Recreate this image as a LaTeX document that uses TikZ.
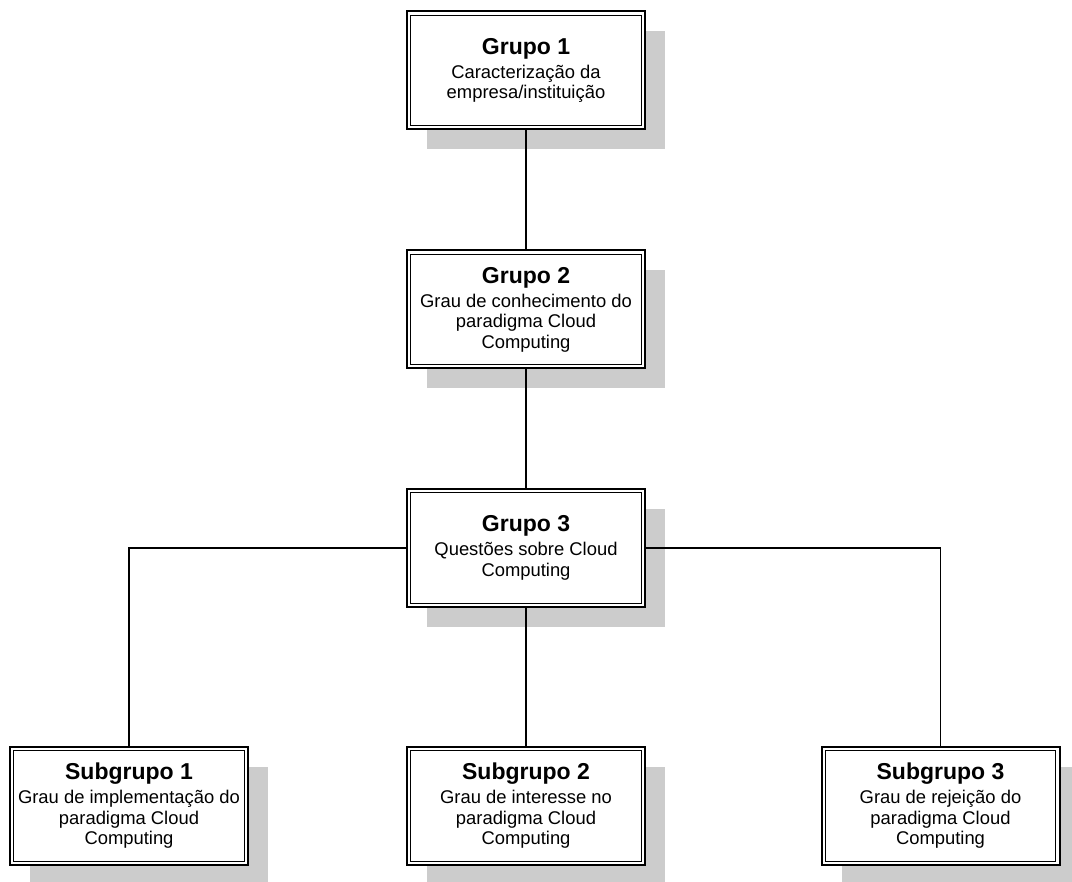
\documentclass[tikz,border=0pt]{standalone}
\usepackage{fontspec}
\setmainfont{Liberation Sans}
\usetikzlibrary{shadows}
\definecolor{shadowgray}{RGB}{204,204,204}
\tikzset{
  box/.style={
    draw=black, line width=2pt, fill=white,
    minimum width=238pt, minimum height=118pt,
    inner sep=0pt, align=center,
    font=\fontsize{18.4}{20.5}\selectfont,
    drop shadow={shadow xshift=20pt, shadow yshift=-20pt,
                 fill=shadowgray, opacity=1},
    path picture={
      \draw[line width=1pt]
        ([shift={(3.7pt,-3.7pt)}]path picture bounding box.north west)
        rectangle
        ([shift={(-3.7pt,3.7pt)}]path picture bounding box.south east);
    }
  },
  link/.style={draw=black, line width=1.3pt},
}
\newcommand{\boxtitle}[1]{{\fontsize{23}{26}\bfseries #1}\\[3.5pt]}
\begin{document}
\begin{tikzpicture}[x=1pt,y=-1pt]
  \useasboundingbox (0,0) rectangle (1072,882);

  % main groups
  \node[box] (g1) at (526,70.5)
    {\boxtitle{Grupo 1}Caracterização da\\empresa/instituição};
  \node[box] (g2) at (526,309.5)
    {\boxtitle{Grupo 2}Grau de conhecimento do\\paradigma Cloud\\Computing};
  \node[box] (g3) at (526,548)
    {\boxtitle{Grupo 3}Questões sobre Cloud\\Computing};

  % subgroups of group 3
  \node[box] (s1) at (129,806)
    {\boxtitle{Subgrupo 1}Grau de implementação do\\paradigma Cloud\\Computing};
  \node[box] (s2) at (526,806)
    {\boxtitle{Subgrupo 2}Grau de interesse no\\paradigma Cloud\\Computing};
  \node[box] (s3) at (940.5,806)
    {\boxtitle{Subgrupo 3}Grau de rejeição do\\paradigma Cloud\\Computing};

  % connectors
  \path[link] (g1.south) -- (g2.north);
  \path[link] (g2.south) -- (g3.north);
  \path[link] (g3.west) -| (s1.north);
  \path[link] (g3.east) -| (s3.north);
  \path[link] (g3.south) -- (s2.north);
\end{tikzpicture}
\end{document}
